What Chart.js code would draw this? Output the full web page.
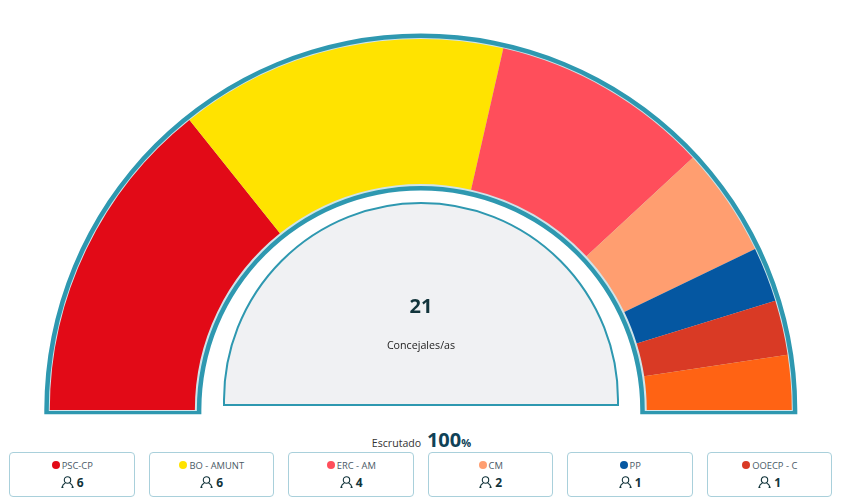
<!DOCTYPE html>
<html lang="es">
<head>
<meta charset="utf-8">
<title>Concejales/as</title>
<script src="https://cdn.jsdelivr.net/npm/chart.js@4"></script>
<style>
    html, body { margin: 0; padding: 0; background: #fff; }
    body { width: 841px; height: 504px; position: relative; overflow: hidden; font-family: "Open Sans", sans-serif; color: #12343b; }
    #chartBox { position: absolute; left: 0; top: 0; width: 841px; height: 425px; }
    .total { position: absolute; left: 221px; width: 400px; top: 292px; text-align: center; font-size: 20px; line-height: 27px; font-weight: 700; color: #12343b; }
    .totalLabel { position: absolute; left: 221px; width: 400px; top: 337px; text-align: center; font-size: 10.7px; line-height: 16px; color: #222; }
    .scrutiny { position: absolute; left: 1px; width: 841px; top: 427px; text-align: center; font-size: 10.6px; line-height: 26px; color: #333; white-space: nowrap; }
    .scrutiny b { font-size: 20px; color: #0f4257; margin-left: 3px; }
    .scrutiny b small { font-size: 11px; }
    .card { position: absolute; top: 452px; width: 125.5px; height: 44.5px; box-sizing: border-box; border: 1px solid #a9d0db; border-radius: 4px; text-align: center; }
    .name { position: absolute; left: 1px; right: 0; top: 5.5px; font-size: 9.4px; line-height: 14px; color: #4a5a66; white-space: nowrap; }
    .dot { display: inline-block; width: 8px; height: 8px; border-radius: 50%; margin-right: 2px; vertical-align: 0; }
    .seats { position: absolute; left: 1px; right: 0; top: 22px; font-size: 12px; line-height: 16px; font-weight: 700; color: #12343b; }
    .seats svg { vertical-align: -1px; margin-right: 3px; }
</style>
</head>
<body>
<div id="chartBox"><canvas id="hemicycle"></canvas></div>
<div class="total" id="total"></div>
<div class="totalLabel">Concejales/as</div>
<div class="scrutiny">Escrutado <b>100<small>%</small></b></div>
<div id="cards"></div>

<script>
// seat counts, the last party has no card in the picture
const parties = ["PSC-CP", "BO - AMUNT", "ERC - AM", "CM", "PP", "OOECP - C", ""];
const seats = [6, 6, 4, 2, 1, 1, 1];
const partyColors = ["#e20a17", "#ffe300", "#ff4e5b", "#ff9e70", "#0557a1", "#d93a25", "#ff6314"];
const totalSeats = 21;
const scrutinyLabel = "100";

const frameColor = "#2e98b0";
const frameLight = "#cfe4ea";
const innerFill = "#f0f1f3";

// frame and grey centre follow the arc geometry of the chart
const hemicycleFrame = {
    id: "hemicycleFrame",
    beforeDatasetsDraw(chart) {
        const arc = chart.getDatasetMeta(0).data[0];
        const ctx = chart.ctx;
        const cx = arc.x, cy = arc.y;
        const band = (outer, inner, drop, color) => {
            ctx.beginPath();
            ctx.arc(cx, cy, outer, Math.PI, 2 * Math.PI);
            ctx.lineTo(cx + outer, cy + drop);
            ctx.lineTo(cx + inner, cy + drop);
            ctx.lineTo(cx + inner, cy);
            ctx.arc(cx, cy, inner, 2 * Math.PI, Math.PI, true);
            ctx.lineTo(cx - inner, cy + drop);
            ctx.lineTo(cx - outer, cy + drop);
            ctx.closePath();
            ctx.fillStyle = color;
            ctx.fill();
        };
        ctx.save();
        band(arc.outerRadius + 5.5, arc.innerRadius - 6.5, 4.3, frameColor);
        band(arc.outerRadius + 1, arc.innerRadius - 2, 1, frameLight);

        // grey semicircle, arc sits a little above the straight base
        ctx.beginPath();
        ctx.arc(cx + 0.2, cy - 10, 197, Math.PI, 2 * Math.PI);
        ctx.lineTo(cx + 197.2, cy - 5);
        ctx.lineTo(cx - 196.8, cy - 5);
        ctx.closePath();
        ctx.fillStyle = innerFill;
        ctx.fill();
        ctx.lineWidth = 2;
        ctx.strokeStyle = frameColor;
        ctx.stroke();
        ctx.restore();
    }
};

new Chart(document.getElementById("hemicycle").getContext("2d"), {
    type: "doughnut",
    data: {
        labels: parties,
        datasets: [{
            data: seats,
            backgroundColor: partyColors,
            borderWidth: 0
        }]
    },
    options: {
        responsive: true,
        maintainAspectRatio: false,
        animation: false,
        rotation: -90,
        circumference: 180,
        cutout: "60.9%",
        layout: { padding: { left: 49.8, right: 49.2, top: 39, bottom: 15 } },
        plugins: { legend: { display: false }, tooltip: { enabled: false } }
    },
    plugins: [hemicycleFrame]
});

document.getElementById("total").textContent = totalSeats;
document.querySelector(".scrutiny b").firstChild.textContent = scrutinyLabel;

const personIcon = '<svg width="13" height="12" viewBox="0 0 13 12" fill="none" stroke="#12343b" stroke-width="1.1">' +
    '<circle cx="6.5" cy="4" r="3.2"/><path d="M1 11.3c.6-2.6 2.3-4 3.4-4.4M12 11.3c-.6-2.6-2.3-4-3.4-4.4M.4 11.4h2M10.6 11.4h2"/></svg>';

const cardsBox = document.getElementById("cards");
parties.forEach((name, i) => {
    if (!name) return;
    const card = document.createElement("div");
    card.className = "card";
    card.style.left = (9 + i * 139.5) + "px";
    card.innerHTML = '<div class="name"><span class="dot" style="background:' + partyColors[i] + '"></span>' + name + '</div>' +
        '<div class="seats">' + personIcon + seats[i] + '</div>';
    cardsBox.appendChild(card);
});
</script>
</body>
</html>
